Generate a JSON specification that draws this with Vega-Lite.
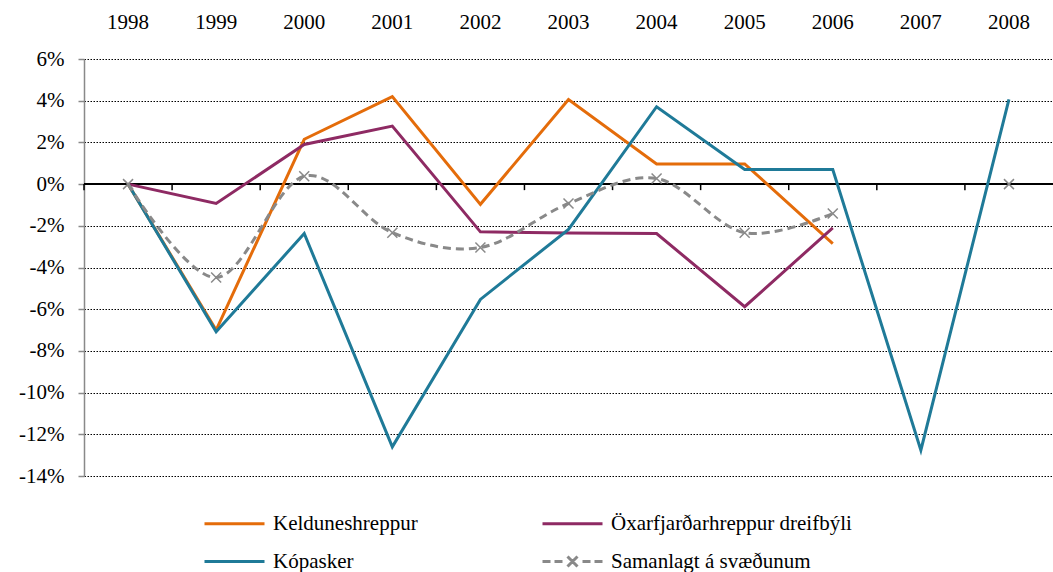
{
  "$schema": "https://vega.github.io/schema/vega-lite/v6.json",
  "width": 969,
  "height": 417,
  "autosize": {"type": "none"},
  "padding": {"left": 84, "top": 59, "right": 0, "bottom": 96},
  "config": {"view": {"stroke": null}, "font": "'Liberation Serif', 'DejaVu Serif', serif"},
  "data": {
    "values": [
      {"year": "1998", "series": "Kelduneshreppur", "value": 0},
      {"year": "1999", "series": "Kelduneshreppur", "value": -7.0},
      {"year": "2000", "series": "Kelduneshreppur", "value": 2.15},
      {"year": "2001", "series": "Kelduneshreppur", "value": 4.2},
      {"year": "2002", "series": "Kelduneshreppur", "value": -0.97},
      {"year": "2003", "series": "Kelduneshreppur", "value": 4.06},
      {"year": "2004", "series": "Kelduneshreppur", "value": 0.97},
      {"year": "2005", "series": "Kelduneshreppur", "value": 0.97},
      {"year": "2006", "series": "Kelduneshreppur", "value": -2.85},
      {"year": "1998", "series": "Öxarfjarðarhreppur dreifbýli", "value": 0},
      {"year": "1999", "series": "Öxarfjarðarhreppur dreifbýli", "value": -0.93},
      {"year": "2000", "series": "Öxarfjarðarhreppur dreifbýli", "value": 1.9},
      {"year": "2001", "series": "Öxarfjarðarhreppur dreifbýli", "value": 2.78},
      {"year": "2002", "series": "Öxarfjarðarhreppur dreifbýli", "value": -2.29},
      {"year": "2003", "series": "Öxarfjarðarhreppur dreifbýli", "value": -2.35},
      {"year": "2004", "series": "Öxarfjarðarhreppur dreifbýli", "value": -2.37},
      {"year": "2005", "series": "Öxarfjarðarhreppur dreifbýli", "value": -5.88},
      {"year": "2006", "series": "Öxarfjarðarhreppur dreifbýli", "value": -2.1},
      {"year": "1998", "series": "Kópasker", "value": 0},
      {"year": "1999", "series": "Kópasker", "value": -7.08},
      {"year": "2000", "series": "Kópasker", "value": -2.37},
      {"year": "2001", "series": "Kópasker", "value": -12.6},
      {"year": "2002", "series": "Kópasker", "value": -5.53},
      {"year": "2003", "series": "Kópasker", "value": -2.17},
      {"year": "2004", "series": "Kópasker", "value": 3.71},
      {"year": "2005", "series": "Kópasker", "value": 0.7},
      {"year": "2006", "series": "Kópasker", "value": 0.7},
      {"year": "2007", "series": "Kópasker", "value": -12.76},
      {"year": "2008", "series": "Kópasker", "value": 4.06},
      {"year": "1998", "series": "Samanlagt á svæðunum", "value": 0},
      {"year": "1999", "series": "Samanlagt á svæðunum", "value": -4.48},
      {"year": "2000", "series": "Samanlagt á svæðunum", "value": 0.38},
      {"year": "2001", "series": "Samanlagt á svæðunum", "value": -2.33},
      {"year": "2002", "series": "Samanlagt á svæðunum", "value": -3.04},
      {"year": "2003", "series": "Samanlagt á svæðunum", "value": -0.93},
      {"year": "2004", "series": "Samanlagt á svæðunum", "value": 0.27},
      {"year": "2005", "series": "Samanlagt á svæðunum", "value": -2.33},
      {"year": "2006", "series": "Samanlagt á svæðunum", "value": -1.41},
      {"year": "2008", "series": "Samanlagt á svæðunum", "value": 0}
    ]
  },
  "layer": [
    {
      "mark": {"type": "rule", "color": "black", "strokeWidth": 1.5},
      "encoding": {
        "y": {
          "datum": 0,
          "type": "quantitative",
          "scale": {"domain": [-14, 6], "nice": false, "zero": false},
          "axis": {
            "title": null,
            "values": [-14, -12, -10, -8, -6, -4, -2, 0, 2, 4, 6],
            "labelExpr": "datum.value + '%'",
            "labelFont": "'Liberation Serif', 'DejaVu Serif', serif",
            "labelFontSize": 21,
            "labelColor": "black",
            "labelPadding": 14,
            "tickSize": 6,
            "tickColor": "#898989",
            "tickWidth": 1.5,
            "domainColor": "#898989",
            "domainWidth": 1.5,
            "grid": true,
            "gridColor": "black",
            "gridWidth": 1,
            "gridDash": [1.5, 1.5]
          }
        }
      }
    },
    {
      "transform": [{"filter": "datum.series === 'Kópasker'"}],
      "mark": {"type": "rule", "color": "black", "strokeWidth": 1.5},
      "encoding": {
        "x": {
          "field": "year",
          "type": "ordinal",
          "bandPosition": 0,
          "scale": {"type": "band", "paddingInner": 0, "paddingOuter": 0},
          "axis": {
            "orient": "top",
            "title": null,
            "labelAngle": 0,
            "labelFont": "'Liberation Serif', 'DejaVu Serif', serif",
            "labelFontSize": 21,
            "labelColor": "black",
            "ticks": false,
            "tickSize": 0,
            "domain": false,
            "labelPadding": 27
          }
        },
        "y": {"datum": 0, "type": "quantitative"},
        "y2": {"datum": -0.29}
      }
    },
    {
      "transform": [{"filter": "datum.series !== 'Samanlagt á svæðunum'"}],
      "mark": {"type": "line", "strokeWidth": 3},
      "encoding": {
        "x": {"field": "year", "type": "ordinal", "bandPosition": 0.5},
        "y": {"field": "value", "type": "quantitative"},
        "color": {
          "field": "series",
          "type": "nominal",
          "scale": {
            "domain": ["Kelduneshreppur", "Kópasker", "Öxarfjarðarhreppur dreifbýli", "Samanlagt á svæðunum"],
            "range": ["#E46C0A", "#1F7A98", "#8E2A63", "#898989"]
          },
          "legend": {
            "orient": "none",
            "legendX": 139,
            "legendY": 453,
            "columns": 2,
            "columnPadding": 118,
            "rowPadding": 16,
            "title": null,
            "symbolSize": 400,
            "symbolStrokeWidth": 3,
            "labelFont": "'Liberation Serif', 'DejaVu Serif', serif",
            "labelFontSize": 21,
            "labelColor": "black",
            "labelLimit": 500,
            "labelOffset": 27,
            "encode": {
              "symbols": {
                "update": {
                  "shape": {"signal": "datum.value === 'Samanlagt á svæðunum' ? 'M-3,0H-2.2M-1.8,0H-1M1,0H1.8M2.2,0H3M-0.5,-0.5L0.5,0.5M-0.5,0.5L0.5,-0.5' : 'M-3,0H3'"}
                }
              }
            }
          }
        },
        "order": {"field": "year"}
      }
    },
    {
      "transform": [{"filter": "datum.series === 'Samanlagt á svæðunum' && datum.year !== '2008'"}],
      "mark": {"type": "line", "strokeWidth": 3, "strokeDash": [8, 5], "interpolate": "cardinal"},
      "encoding": {
        "x": {"field": "year", "type": "ordinal", "bandPosition": 0.5},
        "y": {"field": "value", "type": "quantitative"},
        "color": {
          "field": "series",
          "type": "nominal",
          "scale": {
            "domain": ["Kelduneshreppur", "Kópasker", "Öxarfjarðarhreppur dreifbýli", "Samanlagt á svæðunum"],
            "range": ["#E46C0A", "#1F7A98", "#8E2A63", "#898989"]
          }
        }
      }
    },
    {
      "transform": [{"filter": "datum.series === 'Samanlagt á svæðunum'"}],
      "mark": {"type": "point", "shape": "M-1,-1L1,1M-1,1L1,-1", "filled": false, "stroke": "#898989", "strokeWidth": 1.5, "size": 100, "opacity": 1},
      "encoding": {
        "x": {"field": "year", "type": "ordinal", "bandPosition": 0.5},
        "y": {"field": "value", "type": "quantitative"}
      }
    }
  ]
}
